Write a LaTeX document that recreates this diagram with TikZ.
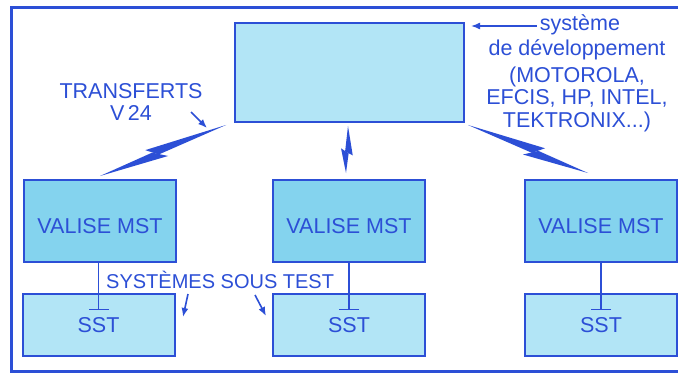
\documentclass[tikz,border=0pt]{standalone}
\usepackage{fontspec}
\setmainfont{Liberation Sans}
\usetikzlibrary{arrows.meta,positioning,calc}
\definecolor{inkblue}{HTML}{2C4FD6}
\definecolor{boxcyan}{HTML}{B2E5F6}
\definecolor{valisecyan}{HTML}{84D3EE}
\tikzset{
  >=Latex,
  lbl/.style={font=\fontsize{21.5}{22.5}\selectfont, text=inkblue, inner sep=0pt},
  outerframe/.style={draw=inkblue, line width=3pt},
  devbox/.style={
    rectangle, draw=inkblue, line width=2pt, fill=boxcyan,
    minimum width=229pt, minimum height=99pt
  },
  valise/.style={
    rectangle, draw=inkblue, line width=2pt, fill=valisecyan,
    minimum width=152pt, minimum height=82pt,
    font=\fontsize{21.5}{22.5}\selectfont, text=inkblue,
    text height=25pt, text depth=0pt
  },
  sstbox/.style={
    rectangle, draw=inkblue, line width=2pt, fill=boxcyan,
    minimum width=152pt, minimum height=62pt,
    font=\fontsize{21.5}{22.5}\selectfont, text=inkblue
  },
  pointer/.style={-{Latex[length=9pt,width=7pt]}, line width=1.6pt, draw=inkblue},
  tlink/.style={-{Bar[width=20pt]}, line width=1.5pt, draw=inkblue},
  boltfill/.style={fill=inkblue}
}
% lightning link: from, to, side angle, half width
\newcommand{\boltlink}[4]{
  \fill[boltfill] (#1)
    -- ($(#1)!0.62!(#2)!#4!#3:(#2)$)
    -- ($(#1)!0.54!(#2)!-0.3*#4!#3:(#2)$) -- cycle;
  \fill[boltfill] (#2)
    -- ($(#1)!0.48!(#2)!-#4!#3:(#2)$)
    -- ($(#1)!0.58!(#2)!0.3*#4!#3:(#2)$) -- cycle;
}

\begin{document}
\begin{tikzpicture}[x=1pt,y=1pt]
\useasboundingbox (0,0) rectangle (678,373);
\clip (0,0) rectangle (678,373);
\fill[white] (0,0) rectangle (678,373);
\draw[outerframe] (11,2) rectangle (692,365);
% development system
\node[devbox] (dev) at (349.5,300.5) {};
\node[lbl, anchor=base] (sysword) at (580,342) {système};
\node[lbl, align=center] (syslist) at (577,287.5) {de développement\\[4.5pt](MOTOROLA,\\EFCIS, HP, INTEL,\\TEKTRONIX...)};
\draw[pointer] ($(sysword.base west)+(-3,5)$) -- ($(dev.east |- sysword.base)+(6,5)$);
\node[lbl, align=center] (transf) at (131,271) {TRANSFERTS\\V\,24};
% valises and systems under test
\node[valise] (val1) at (100,152) {VALISE MST};
\node[valise] (val2) at (349,152) {VALISE MST};
\node[valise] (val3) at (601,152) {VALISE MST};
\node[sstbox] (sst1) at (98.5,48) {SST};
\node[sstbox] (sst2) at (349,48) {SST};
\node[sstbox] (sst3) at (601,48) {SST};
\draw[tlink] (sst1.north |- val1.south) -- ($(sst1.north)+(0,-17)$);
\draw[tlink] (sst2.north |- val2.south) -- ($(sst2.north)+(0,-17)$);
\draw[tlink] (sst3.north |- val3.south) -- ($(sst3.north)+(0,-17)$);
\node[lbl, font=\fontsize{20}{22}\selectfont, anchor=base west] (ssttext) at (106,85) {SYSTÈMES SOUS TEST};
% V24 links
\coordinate (b1a) at ($(dev.south west)+(-8,-2)$);
\coordinate (b1b) at ($(val1.north)+(0,3)$);
\coordinate (b2a) at ($(dev.south)+(-1.5,-3)$);
\coordinate (b2b) at ($(val2.north)+(-3,6)$);
\coordinate (b3a) at ($(dev.south east)+(3,-2)$);
\coordinate (b3b) at ($(val3.north)+(-13,6)$);
\boltlink{b1a}{b1b}{-90}{7pt}
\boltlink{b2a}{b2b}{90}{6pt}
\boltlink{b3a}{b3b}{90}{7pt}
% pointers
\coordinate (transfptr) at (191,261);
\coordinate (boltmark) at (207,245);
\draw[pointer] (transfptr) -- (boltmark);
\coordinate (sstptra) at (188,79);
\coordinate (sstmarka) at (183,56);
\coordinate (sstptrb) at (255,78);
\coordinate (sstmarkb) at (266,57);
\draw[pointer] (sstptra) -- (sstmarka);
\draw[pointer] (sstptrb) -- (sstmarkb);
\end{tikzpicture}
\end{document}
